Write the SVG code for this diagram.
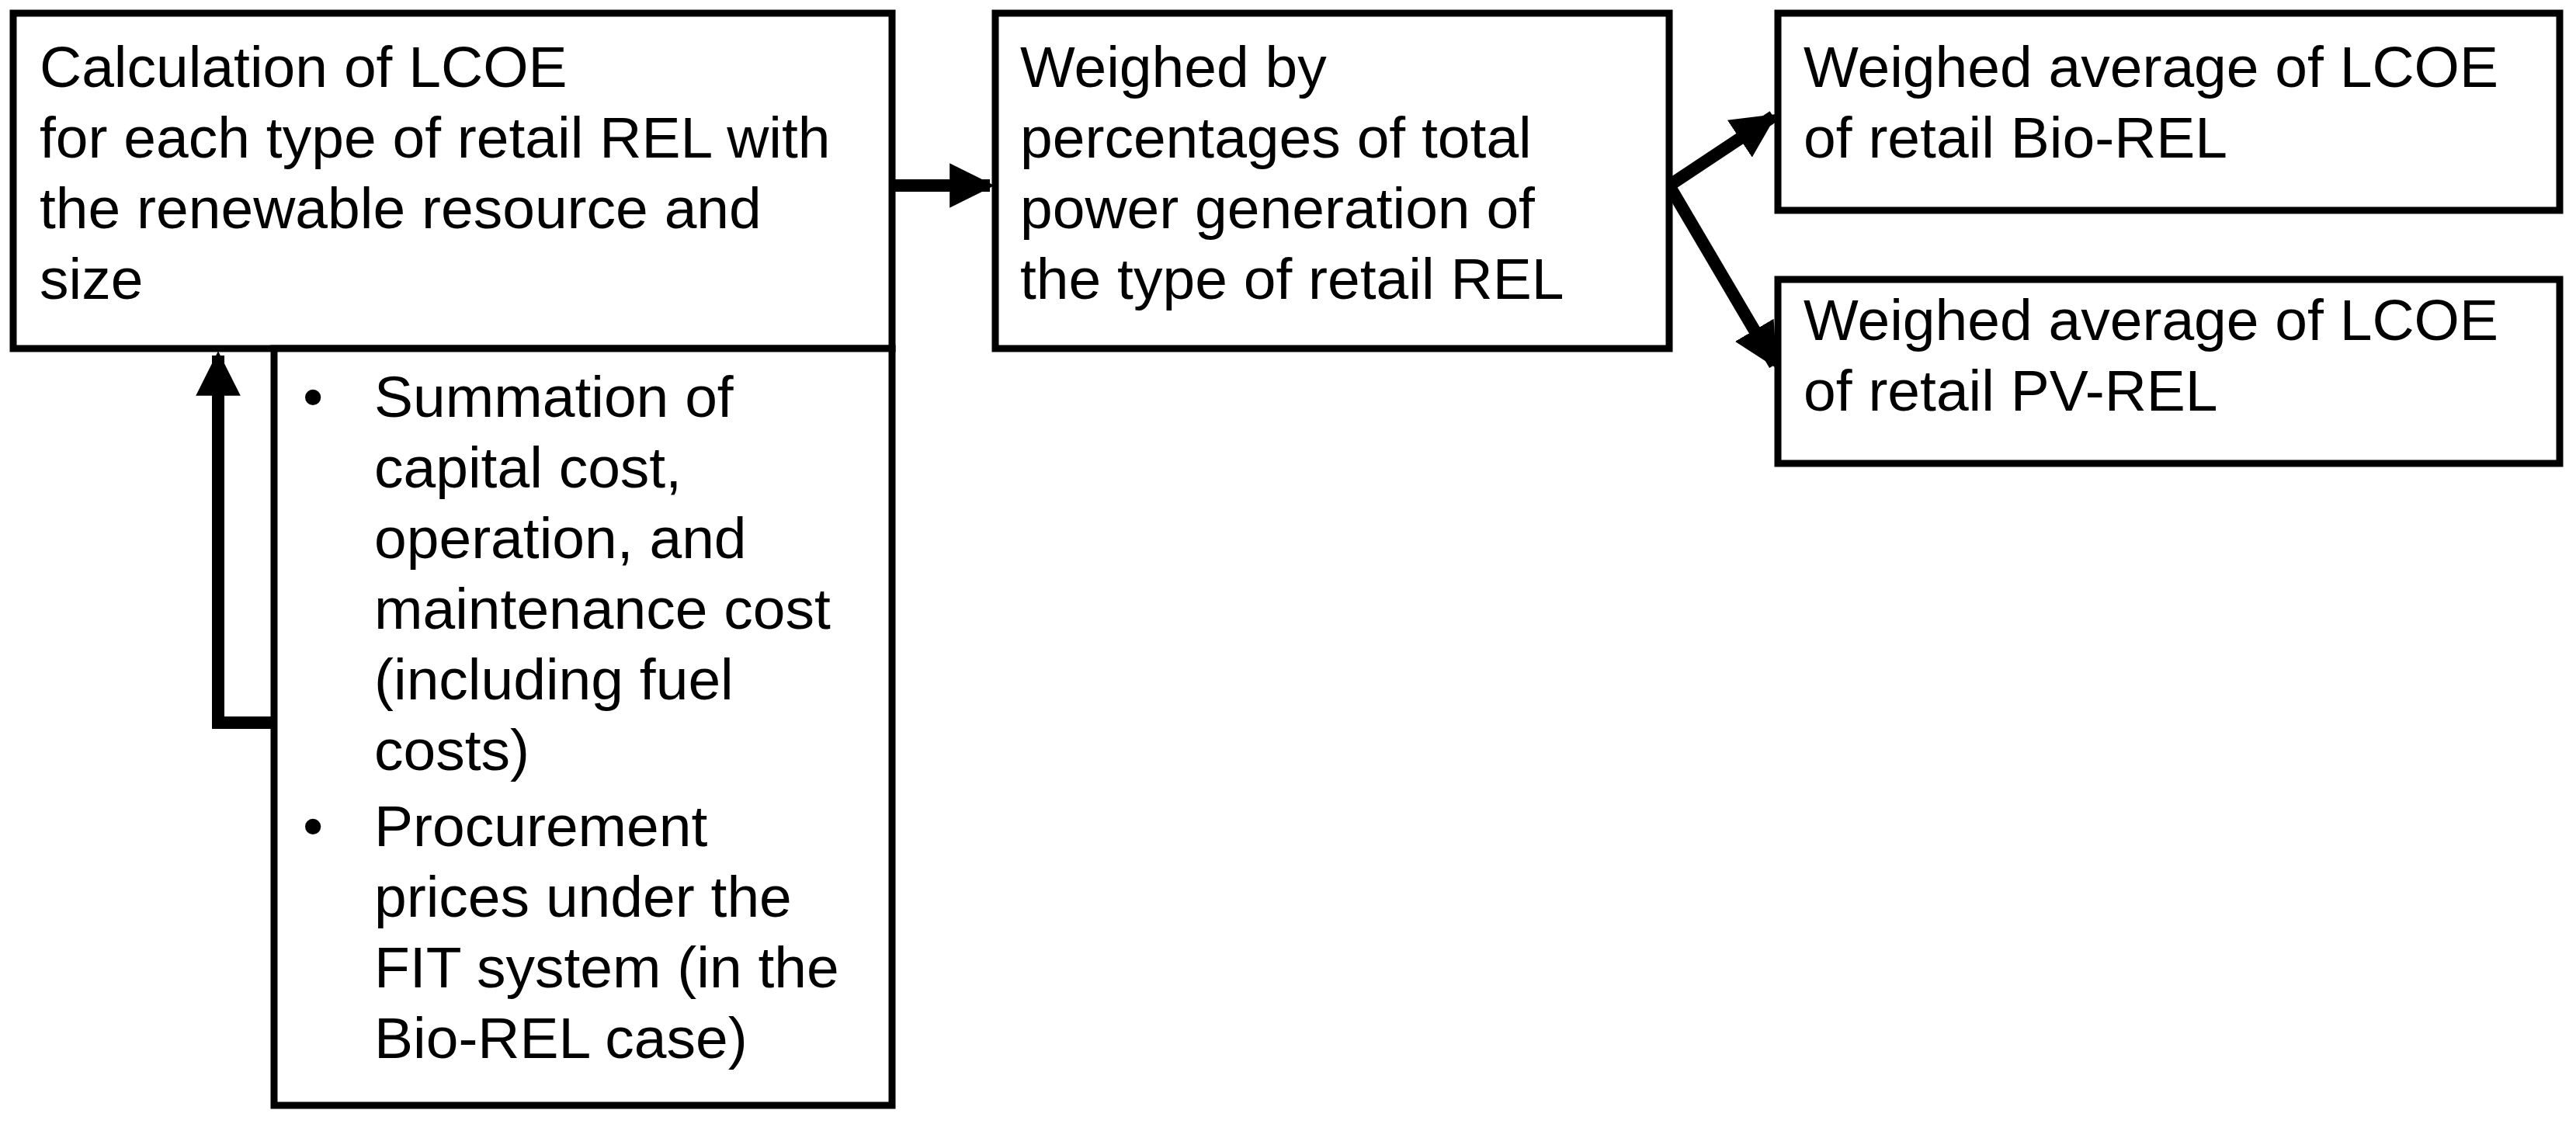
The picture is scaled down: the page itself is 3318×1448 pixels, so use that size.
<svg xmlns="http://www.w3.org/2000/svg" width="3318" height="1448" viewBox="0 0 3318 1448">
<style>
.b{fill:#fff;stroke:#000;stroke-width:9}
text{font-family:"Liberation Sans",Arial,sans-serif;font-size:75px;fill:#000}
.c{stroke:#000;stroke-width:16;fill:none}
</style>
<defs><marker id="a" viewBox="0 0 10 10" refX="9" refY="5" markerWidth="3.6" markerHeight="3.6" orient="auto" markerUnits="strokeWidth"><path d="M0,0L10,5L0,10z" fill="#000"/></marker></defs>
<rect width="3318" height="1448" fill="#fff"/>
<g id="connectors">
<path class="c" d="M1149,239H1275" marker-end="url(#a)"/>
<path class="c" d="M353,931H281V458" marker-end="url(#a)"/>
<path class="c" d="M2150,239L2284,150" marker-end="url(#a)"/>
<path class="c" d="M2150,239L2286,470" marker-end="url(#a)"/>
</g>
<g id="n1"><rect class="b" x="17" y="17" width="1132" height="432"/>
<text x="51" y="112">Calculation of LCOE</text><text x="51" y="203">for each type of retail REL with</text><text x="51" y="294">the renewable resource and</text><text x="51" y="385">size</text></g>
<g id="n2"><rect class="b" x="353" y="449" width="796" height="975"/>
<text x="390" y="537">•</text><text x="482" y="537">Summation of</text><text x="482" y="628">capital cost,</text><text x="482" y="719">operation, and</text><text x="482" y="810">maintenance cost</text><text x="482" y="901">(including fuel</text><text x="482" y="992">costs)</text>
<text x="390" y="1090">•</text><text x="482" y="1090">Procurement</text><text x="482" y="1181">prices under the</text><text x="482" y="1272">FIT system (in the</text><text x="482" y="1363">Bio-REL case)</text></g>
<g id="n3"><rect class="b" x="1282" y="17" width="868" height="432"/>
<text x="1314" y="112">Weighed by</text><text x="1314" y="203">percentages of total</text><text x="1314" y="294">power generation of</text><text x="1314" y="385">the type of retail REL</text></g>
<g id="n4"><rect class="b" x="2290" y="17" width="1007" height="254"/>
<text x="2323" y="112">Weighed average of LCOE</text><text x="2323" y="203">of retail Bio-REL</text></g>
<g id="n5"><rect class="b" x="2290" y="360" width="1007" height="237"/>
<text x="2323" y="438">Weighed average of LCOE</text><text x="2323" y="529">of retail PV-REL</text></g>
</svg>
